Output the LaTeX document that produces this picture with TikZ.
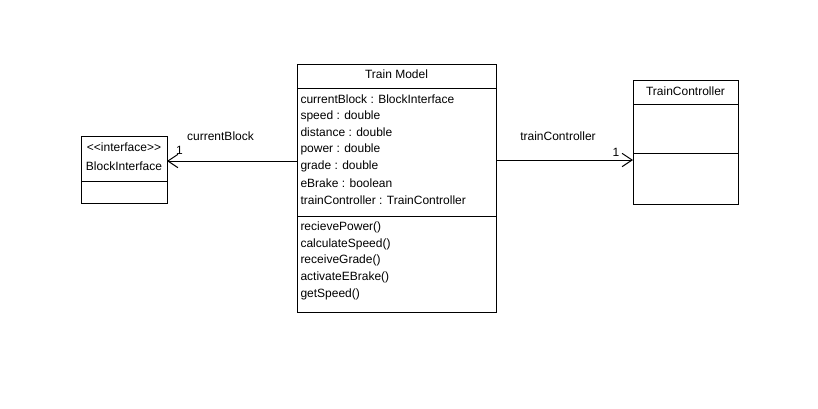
\documentclass[tikz,border=0pt]{standalone}
\usepackage{fontspec}
\setmainfont{Liberation Sans}
\usetikzlibrary{arrows.meta}

\tikzset{every picture/.style={line width=0.75pt}}
\tikzset{
	classbox/.style={draw, fill=white, rectangle, anchor=north west, inner sep=0pt, outer sep=0pt},
	member/.style={anchor=west, inner sep=0.75pt, font=\fontsize{9}{11}\selectfont},
	title/.style={inner sep=0.75pt, font=\fontsize{9}{11}\selectfont},
	assoc/.style={-{Straight Barb[length=7.5pt,width=10pt,line width=0.75pt]}}
}

\begin{document}
\begin{tikzpicture}[x=0.75pt,y=0.75pt,yscale=-1,xscale=1]
			\useasboundingbox (0,0) rectangle (818,408);

			%Shape: Class BlockInterface
			\node [classbox, minimum width=64.5pt, minimum height=50.25pt] (blockif) at (81,136) {};
			\draw (blockif.west |- 0,181) -- (blockif.east |- 0,181) ;
			%Shape: Class Train Model
			\node [classbox, minimum width=149.25pt, minimum height=186pt] (trainmodel) at (297,64) {};
			\draw (trainmodel.west |- 0,88) -- (trainmodel.east |- 0,88) ;
			\draw (trainmodel.west |- 0,216) -- (trainmodel.east |- 0,216) ;
			%Shape: Class TrainController
			\node [classbox, minimum width=78.75pt, minimum height=93pt] (trainctrl) at (633,80) {};
			\draw (trainctrl.west |- 0,104) -- (trainctrl.east |- 0,104) ;
			\draw (trainctrl.west |- 0,153) -- (trainctrl.east |- 0,153) ;

			%Straight Lines: associations
			\draw [assoc] (trainmodel.west |- 0,161) -- (blockif.east |- 0,161) ;
			\draw [assoc] (trainmodel.east |- 0,160) -- (trainctrl.west |- 0,160) ;

			% Text Node
			\draw (124,147) node [title]  (bi-stereo) {<{}<interface>{}>};
			% Text Node
			\draw (124,166) node [title]  (bi-name) {BlockInterface};
			% Text Node
			\draw (396.5,74) node [title]  (tm-name) {Train Model};
			% Text Node
			\draw (685.5,91) node [title]  (tc-name) {TrainController};

			% Text Node
			\draw (299,99) node [member]  (tm-a1) {currentBlock : BlockInterface};
			% Text Node
			\draw (299,116) node [member]  (tm-a2) {speed : double};
			% Text Node
			\draw (299,132.5) node [member]  (tm-a3) {distance : double};
			% Text Node
			\draw (299,149.5) node [member]  (tm-a4) {power : double};
			% Text Node
			\draw (299,166.5) node [member]  (tm-a5) {grade : double};
			% Text Node
			\draw (299,183.5) node [member]  (tm-a6) {eBrake : boolean};
			% Text Node
			\draw (299,200.5) node [member]  (tm-a7) {trainController : TrainController};

			% Text Node
			\draw (299,227) node [member]  (tm-m1) {recievePower()};
			% Text Node
			\draw (299,244) node [member]  (tm-m2) {calculateSpeed()};
			% Text Node
			\draw (299,260.5) node [member]  (tm-m3) {receiveGrade()};
			% Text Node
			\draw (299,277.5) node [member]  (tm-m4) {activateEBrake()};
			% Text Node
			\draw (299,294.5) node [member]  (tm-m5) {getSpeed()};

			% Text Node
			\draw (220.5,136) node [title]  (lbl-cb) {currentBlock};
			% Text Node
			\draw (179.5,150) node [title]  (mul-cb) {1};
			% Text Node
			\draw (558,136) node [title]  (lbl-tc) {trainController};
			% Text Node
			\draw (616,152) node [title]  (mul-tc) {1};

		\end{tikzpicture}
\end{document}
